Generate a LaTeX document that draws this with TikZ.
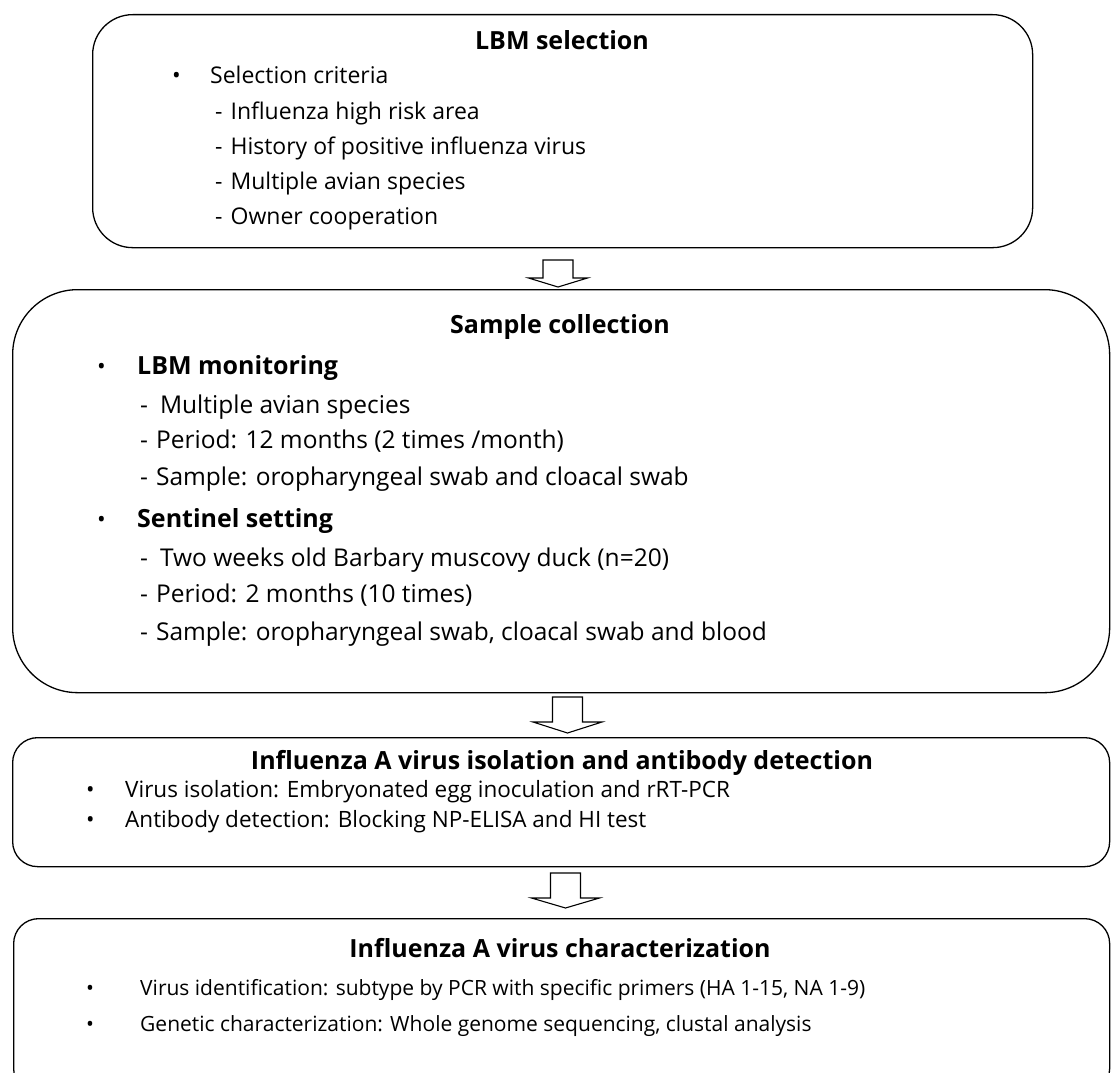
\documentclass[tikz,border=0pt]{standalone}
\usepackage{fontspec}
\setmainfont{Open Sans}

\begin{document}
\begin{tikzpicture}[x=1pt,y=-1pt,
  box/.style={draw, line width=1.3pt, anchor=north west, inner sep=0pt},
  txt/.style={anchor=base west, inner sep=0pt, font=\fontsize{#1}{#1}\selectfont},
  txt/.default=21,
  head/.style={anchor=base, inner sep=0pt, font=\fontsize{25}{29}\selectfont\bfseries},
  subhead/.style={anchor=base west, inner sep=0pt, font=\fontsize{25}{29}\selectfont\bfseries},
  arrowline/.style={draw, line width=1.1pt, line join=miter},
  pics/blockarrow/.style n args={3}{code={
    \draw[arrowline] (-15,0) -- (-15,#1) -- (-#3,#1) -- (0,{#1+#2})
      -- (#3,#1) -- (15,#1) -- (15,0) -- cycle;}}
  ]
  \useasboundingbox (0,0) rectangle (1111,1073);
  \clip (0,0) rectangle (1111,1073);

  % boxes
  \node[box, rounded corners=40pt, minimum width=940pt, minimum height=233pt] (sel) at (92,14) {};
  \node[box, rounded corners=65pt, minimum width=1097pt, minimum height=403pt] (col) at (12,289) {};
  \node[box, rounded corners=25pt, minimum width=1097pt, minimum height=129pt] (iso) at (12,737) {};
  \node[box, rounded corners=25pt, minimum width=1096pt, minimum height=175pt] (cha) at (13,918) {};

  % LBM selection
  \node[head] (selh) at (562,50) {LBM selection};
  \node[txt=23] (sel0b) at (172,84) {•};
  \node[txt=23] (sel0) at (210,84) {Selection criteria};
  \node[txt=23] (sel1) at (215,119) {-\hspace{8pt}Influenza high risk area};
  \node[txt=23] (sel2) at (215,154) {-\hspace{8pt}History of positive influenza virus};
  \node[txt=23] (sel3) at (215,189) {-\hspace{8pt}Multiple avian species};
  \node[txt=23] (sel4) at (215,224) {-\hspace{8pt}Owner cooperation};

  % Sample collection
  \node[head] (colh) at (560,333) {Sample collection};
  \node[txt=23] (colab) at (97,374) {•};
  \node[subhead] (cola) at (137,374) {LBM monitoring};
  \node[txt=24.5] (cola1) at (140,413) {-\hspace{12pt}Multiple avian species};
  \node[txt=24.5] (cola2) at (140,448) {-\hspace{8pt}Period: 12 months (2 times /month)};
  \node[txt=24.5] (cola3) at (140,485) {-\hspace{8pt}Sample: oropharyngeal swab and cloacal swab};
  \node[txt=23] (colbb) at (97,527) {•};
  \node[subhead] (colb) at (137,527) {Sentinel setting};
  \node[txt=24.5] (colb1) at (140,566) {-\hspace{12pt}Two weeks old Barbary muscovy duck (n=20)};
  \node[txt=24.5] (colb2) at (140,602) {-\hspace{8pt}Period: 2 months (10 times)};
  \node[txt=24.5] (colb3) at (140,640) {-\hspace{8pt}Sample: oropharyngeal swab, cloacal swab and blood};

  % isolation and antibody detection
  \node[head] (isoh) at (562,769) {Influenza A virus isolation and antibody detection};
  \node[txt=22.5] (iso1b) at (86,797) {•};
  \node[txt=22.5] (iso1) at (125,797) {Virus isolation: Embryonated egg inoculation and rRT-PCR};
  \node[txt=22.5] (iso2b) at (86,827) {•};
  \node[txt=22.5] (iso2) at (125,827) {Antibody detection: Blocking NP-ELISA and HI test};

  % characterization
  \node[head] (chah) at (560,957) {Influenza A virus characterization};
  \node[txt] (cha1b) at (86,995) {•};
  \node[txt] (cha1) at (140,995) {Virus identification: subtype by PCR with specific primers (HA 1-15, NA 1-9)};
  \node[txt] (cha2b) at (86,1031) {•};
  \node[txt] (cha2) at (140,1031) {Genetic characterization: Whole genome sequencing, clustal analysis};

  % arrows between the boxes
  \pic (a1) at (558,260) {blockarrow={18}{9}{29.5}};
  \pic (a2) at (567.5,697) {blockarrow={25}{11}{34.5}};
  \pic (a3) at (565.5,873) {blockarrow={25}{10}{34}};
\end{tikzpicture}
\end{document}
